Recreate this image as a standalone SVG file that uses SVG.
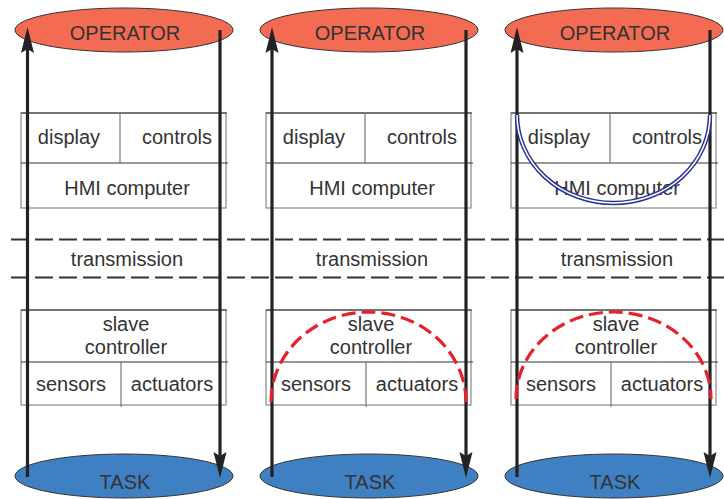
<svg xmlns="http://www.w3.org/2000/svg" width="724" height="499" viewBox="0 0 724 499">
<style>
text{font-family:"Liberation Sans",Arial,sans-serif;font-size:20px;fill:#333;text-anchor:middle}
.op{fill:#f26b52;stroke:#333;stroke-width:1}
.task{fill:#3f80c3;stroke:#333;stroke-width:1}
.bx{fill:none;stroke:#888;stroke-width:1.2}
.hl{stroke:#333;stroke-width:1.2}
.vl{stroke:#777;stroke-width:1.2}
.flow{stroke:#222;stroke-width:3.2;fill:none}
.dash{stroke:#333;stroke-width:1.8;stroke-dasharray:18 6}
.red{fill:none;stroke:#e8202a;stroke-width:3.2;stroke-dasharray:14 6}
.blue{fill:none;stroke:#2a3592;stroke-width:4.5}
.bluein{fill:none;stroke:#fff;stroke-width:1.5}
</style>
<defs>
<marker id="ah" markerUnits="userSpaceOnUse" markerWidth="30" markerHeight="16" viewBox="0 0 30 16" refX="6" refY="8" orient="auto">
<path d="M28 8 L2 1.5 L6 8 L2 14.5 Z" fill="#222"/>
</marker>
<g id="panel">
<ellipse class="op" cx="124" cy="30" rx="109" ry="22"/>
<text x="125" y="40">OPERATOR</text>
<rect class="bx" x="21" y="113" width="205" height="95"/>
<line class="hl" x1="21" y1="113" x2="227" y2="113"/>
<line class="hl" x1="21" y1="163" x2="228" y2="163"/>
<line class="vl" x1="120" y1="113" x2="120" y2="163"/>
<text x="69" y="144">display</text>
<text x="177" y="144">controls</text>
<text x="127" y="195">HMI computer</text>
<text x="127" y="266">transmission</text>
<rect class="bx" x="21" y="310" width="205" height="95"/>
<line class="hl" x1="21" y1="310" x2="227" y2="310"/>
<line class="hl" x1="21" y1="362" x2="228" y2="362"/>
<line class="vl" x1="121" y1="362" x2="121" y2="407"/>
<text x="126" y="331">slave</text>
<text x="126" y="354">controller</text>
<text x="71" y="391">sensors</text>
<text x="172" y="391">actuators</text>
<ellipse class="task" cx="124" cy="476" rx="109" ry="22"/>
<text x="125" y="489">TASK</text>
</g>
</defs>
<g id="panel1"><use href="#panel"/></g>
<g id="panel2"><use href="#panel" x="245"/></g>
<g id="panel3"><use href="#panel" x="490"/></g>
<g id="transmission-lines">
<line class="dash" x1="11" y1="239.5" x2="724" y2="239.5"/>
<line class="dash" x1="11" y1="277.5" x2="724" y2="277.5"/>
</g>
<g id="connectors">
<line class="flow" x1="27.5" y1="477" x2="27.5" y2="49" marker-end="url(#ah)"/>
<line class="flow" x1="220" y1="30" x2="220" y2="456" marker-end="url(#ah)"/>
<line class="flow" x1="272" y1="477" x2="272" y2="49" marker-end="url(#ah)"/>
<line class="flow" x1="466" y1="30" x2="466" y2="456" marker-end="url(#ah)"/>
<line class="flow" x1="517" y1="477" x2="517" y2="49" marker-end="url(#ah)"/>
<line class="flow" x1="710" y1="30" x2="710" y2="456" marker-end="url(#ah)"/>
</g>
<g id="loops">
<path class="red" d="M271 402 A97.5 90 0 0 1 466 402"/>
<path class="red" d="M516 399 A97.5 87 0 0 1 711 399"/>
<path class="blue" d="M517 115 A96.5 88 0 0 0 710 115"/>
<path class="bluein" d="M517 115 A96.5 88 0 0 0 710 115"/>
</g>
</svg>
